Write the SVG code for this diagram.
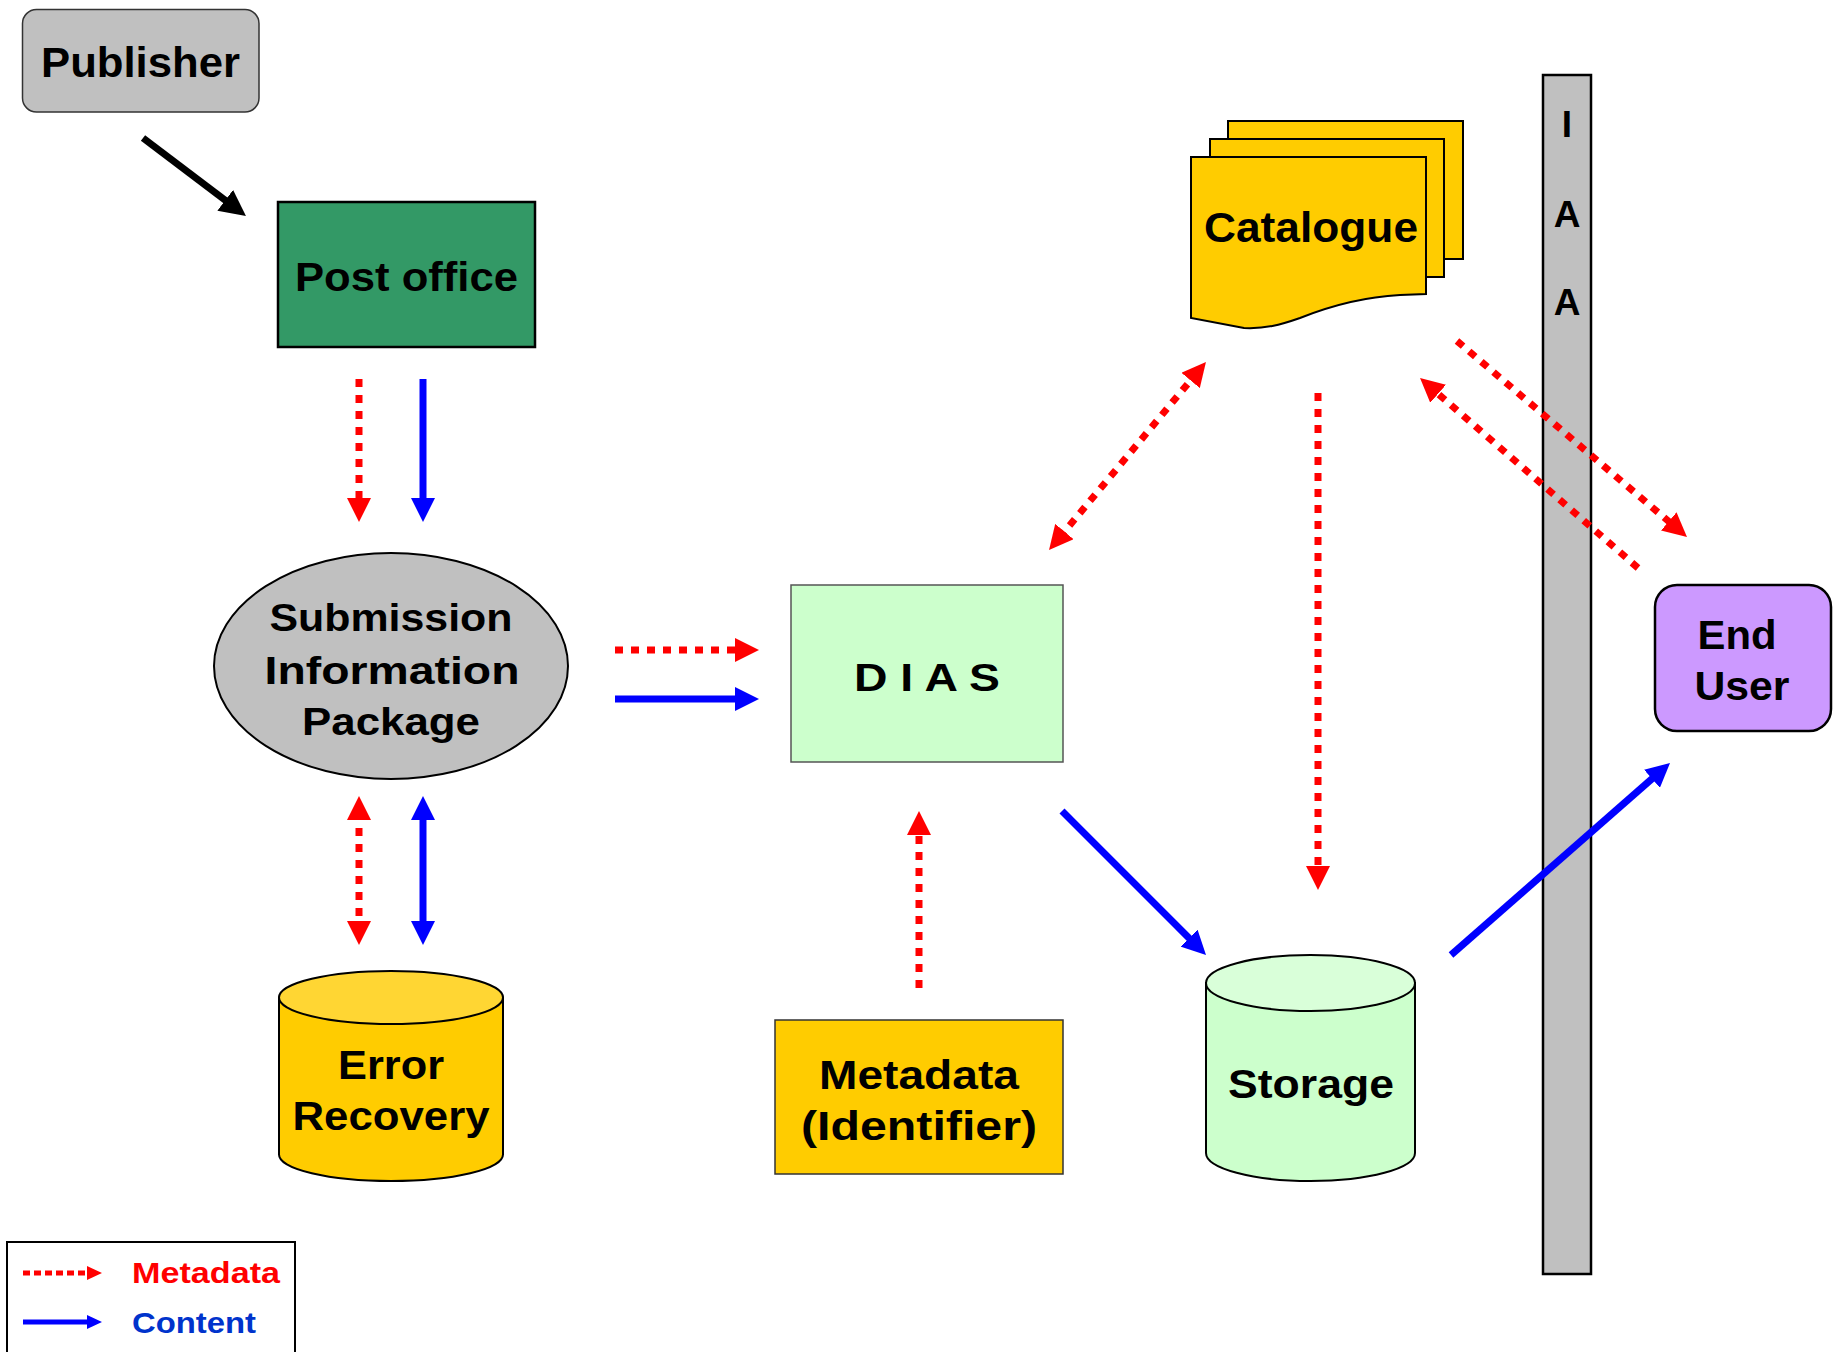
<svg xmlns="http://www.w3.org/2000/svg" width="1834" height="1352" viewBox="0 0 1834 1352">
<style>
text{font-family:"Liberation Sans",Arial,sans-serif;font-weight:bold;fill:#000;text-anchor:middle}
.lbl{font-size:40px}
.meta{fill:none;stroke:#ff0000;stroke-width:7;stroke-dasharray:8 8}
.cont{fill:none;stroke:#0000ff;stroke-width:7}
.box{stroke:#000;stroke-width:2.5}
</style>
<defs>
<marker id="mr" viewBox="0 0 24 24" refX="8" refY="12" markerWidth="24" markerHeight="24" markerUnits="userSpaceOnUse" orient="auto-start-reverse"><path d="M0,0 L24,12 L0,24 Z" fill="#ff0000"/></marker>
<marker id="mb" viewBox="0 0 24 24" refX="8" refY="12" markerWidth="24" markerHeight="24" markerUnits="userSpaceOnUse" orient="auto-start-reverse"><path d="M0,0 L24,12 L0,24 Z" fill="#0000ff"/></marker>
<marker id="mk" viewBox="0 0 26 26" refX="10" refY="13" markerWidth="26" markerHeight="26" markerUnits="userSpaceOnUse" orient="auto"><path d="M0,0 L26,13 L0,26 Z" fill="#000"/></marker>
<marker id="lr" viewBox="0 0 15 14" refX="5" refY="7" markerWidth="15" markerHeight="14" markerUnits="userSpaceOnUse" orient="auto"><path d="M0,0 L15,7 L0,14 Z" fill="#ff0000"/></marker>
<marker id="lb" viewBox="0 0 15 14" refX="5" refY="7" markerWidth="15" markerHeight="14" markerUnits="userSpaceOnUse" orient="auto"><path d="M0,0 L15,7 L0,14 Z" fill="#0000ff"/></marker>
</defs>
<rect width="1834" height="1352" fill="#fff"/>

<g id="publisher">
<rect x="22.5" y="9.5" width="236.5" height="102.5" rx="14" fill="#c0c0c0" stroke="#333" stroke-width="1.5"/>
<text x="140.5" y="77" font-size="42" textLength="199" lengthAdjust="spacingAndGlyphs">Publisher</text>
</g>

<g id="post-office">
<rect x="278" y="202" width="257" height="145" fill="#339966" stroke="#000" stroke-width="2.5"/>
<text class="lbl" x="406.5" y="291" textLength="223" lengthAdjust="spacingAndGlyphs">Post office</text>
</g>

<g id="sip">
<ellipse cx="391" cy="666" rx="177" ry="113" fill="#c0c0c0" stroke="#000" stroke-width="2"/>
<text x="391" y="631" font-size="39" textLength="243" lengthAdjust="spacingAndGlyphs">Submission</text>
<text x="392" y="684" font-size="39" textLength="255" lengthAdjust="spacingAndGlyphs">Information</text>
<text x="391" y="735" font-size="39" textLength="178" lengthAdjust="spacingAndGlyphs">Package</text>
</g>

<g id="error-recovery">
<path d="M279,997.5 V1154.5 A112,26.5 0 0 0 503,1154.5 V997.5 Z" fill="#ffcc00" stroke="#000" stroke-width="2"/>
<ellipse cx="391" cy="997.5" rx="112" ry="26.5" fill="#ffd633" stroke="#000" stroke-width="2"/>
<text class="lbl" x="391" y="1079" textLength="106" lengthAdjust="spacingAndGlyphs">Error</text>
<text class="lbl" x="391" y="1130" textLength="197" lengthAdjust="spacingAndGlyphs">Recovery</text>
</g>

<g id="dias">
<rect x="791" y="585" width="272" height="177" fill="#ccffcc" stroke="#555" stroke-width="1.5"/>
<text x="927" y="691" font-size="39" textLength="146" lengthAdjust="spacingAndGlyphs">D I A S</text>
</g>

<g id="metadata">
<rect x="775" y="1020" width="288" height="154" fill="#ffcc00" stroke="#333" stroke-width="1.5"/>
<text class="lbl" x="919" y="1089" textLength="200" lengthAdjust="spacingAndGlyphs">Metadata</text>
<text class="lbl" x="919" y="1140" textLength="236" lengthAdjust="spacingAndGlyphs">(Identifier)</text>
</g>

<g id="catalogue">
<rect x="1228" y="121" width="235" height="138" fill="#ffcc00" stroke="#000" stroke-width="2"/>
<rect x="1210" y="139" width="234" height="138" fill="#ffcc00" stroke="#000" stroke-width="2"/>
<path d="M1191,157 H1426 V294 L1400,295 C1362,297 1330,306 1300,318 C1280,325 1265,329 1244,328 L1191,318 Z" fill="#ffcc00" stroke="#000" stroke-width="2"/>
<text x="1311" y="242" font-size="42" textLength="214" lengthAdjust="spacingAndGlyphs">Catalogue</text>
</g>

<g id="storage">
<path d="M1206,983 V1153 A104.5,28 0 0 0 1415,1153 V983 Z" fill="#ccffcc" stroke="#000" stroke-width="2"/>
<ellipse cx="1310.5" cy="983" rx="104.5" ry="28" fill="#d9ffd9" stroke="#000" stroke-width="2"/>
<text class="lbl" x="1311" y="1098" textLength="166" lengthAdjust="spacingAndGlyphs">Storage</text>
</g>

<g id="iaa">
<rect x="1543" y="75" width="48" height="1199" fill="#c0c0c0" stroke="#000" stroke-width="2.5"/>
<text x="1567" y="137" font-size="37">I</text>
<text x="1567" y="227" font-size="37">A</text>
<text x="1567" y="315" font-size="37">A</text>
</g>

<g id="end-user">
<rect x="1655" y="585" width="176" height="146" rx="22" fill="#cc99ff" stroke="#000" stroke-width="2.5"/>
<text class="lbl" x="1737" y="649" textLength="79" lengthAdjust="spacingAndGlyphs">End</text>
<text class="lbl" x="1742" y="700" textLength="95" lengthAdjust="spacingAndGlyphs">User</text>
</g>

<g id="connectors">
<line x1="143" y1="138" x2="233.2" y2="206.3" stroke="#000" stroke-width="7" marker-end="url(#mk)"/>
<line class="meta" x1="359" y1="379" x2="359" y2="506" marker-end="url(#mr)"/>
<line class="cont" x1="423" y1="379" x2="423" y2="506" marker-end="url(#mb)"/>
<line class="meta" x1="615" y1="650" x2="743" y2="650" marker-end="url(#mr)"/>
<line class="cont" x1="615" y1="699" x2="743" y2="699" marker-end="url(#mb)"/>
<line class="meta" x1="359" y1="812" x2="359" y2="929" marker-start="url(#mr)" marker-end="url(#mr)"/>
<line class="cont" x1="423" y1="812" x2="423" y2="929" marker-start="url(#mb)" marker-end="url(#mb)"/>
<line class="meta" x1="919" y1="988" x2="919" y2="827" marker-end="url(#mr)"/>
<line class="meta" x1="1059.3" y1="537.7" x2="1195.7" y2="374.3" marker-start="url(#mr)" marker-end="url(#mr)"/>
<line class="meta" x1="1318" y1="393" x2="1318" y2="874" marker-end="url(#mr)"/>
<line class="cont" x1="1062" y1="811" x2="1194.7" y2="943.7" marker-end="url(#mb)"/>
<line class="cont" x1="1451" y1="955" x2="1658" y2="773.5" marker-end="url(#mb)"/>
<line class="meta" x1="1457" y1="341" x2="1674.8" y2="526.6" marker-end="url(#mr)"/>
<line class="meta" x1="1638" y1="568" x2="1432.1" y2="388.5" marker-end="url(#mr)"/>
</g>

<g id="legend">
<rect x="7" y="1242" width="288" height="120" fill="#fff" stroke="#000" stroke-width="2"/>
<line x1="23" y1="1273" x2="92" y2="1273" stroke="#ff0000" stroke-width="5" stroke-dasharray="7 4" marker-end="url(#lr)"/>
<line x1="23" y1="1322" x2="92" y2="1322" stroke="#0000ff" stroke-width="5" marker-end="url(#lb)"/>
<text x="206" y="1283" font-size="30" fill="#ff0000" style="fill:#ff0000" textLength="148" lengthAdjust="spacingAndGlyphs">Metadata</text>
<text x="194" y="1333" font-size="30" style="fill:#0033cc" textLength="124" lengthAdjust="spacingAndGlyphs">Content</text>
</g>
</svg>
